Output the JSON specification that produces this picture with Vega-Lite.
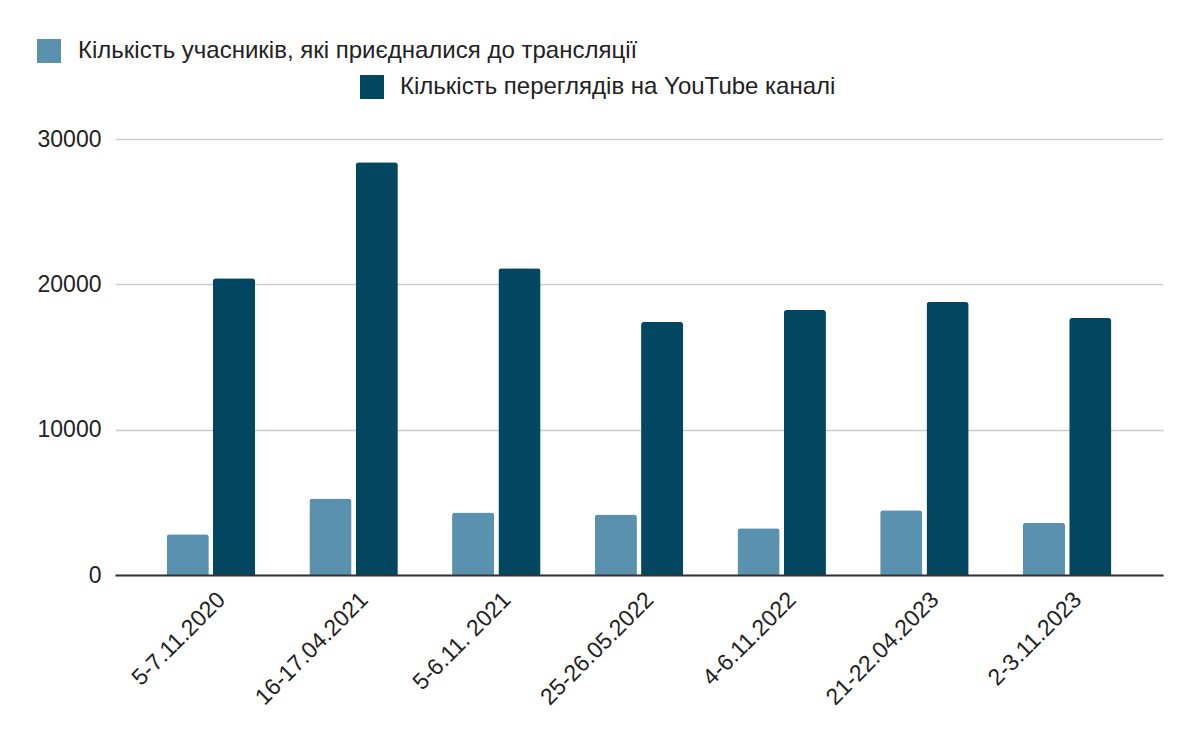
{
  "$schema": "https://vega.github.io/schema/vega-lite/v6.json",
  "autosize": {"type": "none"},
  "width": 1048,
  "height": 436,
  "padding": {"left": 115, "top": 139, "right": 37, "bottom": 167},
  "background": "#ffffff",
  "config": {
    "font": "Liberation Sans",
    "view": {"stroke": null}
  },
  "data": {
    "values": [
      {"event": "5-7.11.2020", "series": "Кількість учасників, які приєдналися до трансляції", "value": 2800},
      {"event": "5-7.11.2020", "series": "Кількість переглядів на YouTube каналі", "value": 20420},
      {"event": "16-17.04.2021", "series": "Кількість учасників, які приєдналися до трансляції", "value": 5260},
      {"event": "16-17.04.2021", "series": "Кількість переглядів на YouTube каналі", "value": 28400},
      {"event": "5-6.11. 2021", "series": "Кількість учасників, які приєдналися до трансляції", "value": 4300},
      {"event": "5-6.11. 2021", "series": "Кількість переглядів на YouTube каналі", "value": 21110},
      {"event": "25-26.05.2022", "series": "Кількість учасників, які приєдналися до трансляції", "value": 4160},
      {"event": "25-26.05.2022", "series": "Кількість переглядів на YouTube каналі", "value": 17410},
      {"event": "4-6.11.2022", "series": "Кількість учасників, які приєдналися до трансляції", "value": 3210},
      {"event": "4-6.11.2022", "series": "Кількість переглядів на YouTube каналі", "value": 18240},
      {"event": "21-22.04.2023", "series": "Кількість учасників, які приєдналися до трансляції", "value": 4450},
      {"event": "21-22.04.2023", "series": "Кількість переглядів на YouTube каналі", "value": 18790},
      {"event": "2-3.11.2023", "series": "Кількість учасників, які приєдналися до трансляції", "value": 3600},
      {"event": "2-3.11.2023", "series": "Кількість переглядів на YouTube каналі", "value": 17680}
    ]
  },
  "encoding": {
    "x": {
      "field": "event",
      "type": "nominal",
      "sort": null,
      "scale": {"paddingInner": 0.38, "paddingOuter": 0.362},
      "axis": {
        "title": null,
        "labelAngle": -45,
        "labelAlign": "right",
        "labelBaseline": "top",
        "labelFontSize": 23,
        "labelColor": "#222222",
        "labelOffset": 3,
        "labelPadding": 13,
        "labelLimit": 0,
        "ticks": false,
        "domain": true,
        "domainColor": "#333333",
        "domainWidth": 2,
        "zindex": 2
      }
    },
    "xOffset": {
      "field": "series",
      "type": "nominal",
      "scale": {
        "domain": ["Кількість учасників, які приєдналися до трансляції", "Кількість переглядів на YouTube каналі"],
        "paddingInner": 0.09
      }
    },
    "y": {
      "field": "value",
      "type": "quantitative",
      "scale": {"domain": [0, 30000], "nice": false},
      "axis": {
        "title": null,
        "values": [0, 10000, 20000, 30000],
        "format": "d",
        "labelFontSize": 23,
        "labelColor": "#222222",
        "labelPadding": 14,
        "ticks": false,
        "domain": false,
        "grid": true,
        "gridColor": "#cccccc",
        "gridWidth": 1.5
      }
    }
  },
  "layer": [
    {
      "transform": [{"filter": "datum.series === 'Кількість учасників, які приєдналися до трансляції'"}],
      "mark": {"type": "bar", "cornerRadiusTopLeft": 3, "cornerRadiusTopRight": 3},
      "encoding": {
        "color": {
          "field": "series",
          "type": "nominal",
          "scale": {"domain": ["Кількість учасників, які приєдналися до трансляції"], "range": ["#5a91ae"]},
          "legend": {
            "orient": "none",
            "legendX": -78,
            "legendY": -100,
            "title": null,
            "padding": 0,
            "symbolType": "square",
            "symbolSize": 576,
            "symbolStrokeWidth": 0,
            "labelFontSize": 24,
            "labelColor": "#222222",
            "labelOffset": 17,
            "labelLimit": 0
          }
        }
      }
    },
    {
      "transform": [{"filter": "datum.series === 'Кількість переглядів на YouTube каналі'"}],
      "mark": {"type": "bar", "cornerRadiusTopLeft": 3, "cornerRadiusTopRight": 3},
      "encoding": {
        "color": {
          "field": "series",
          "type": "nominal",
          "scale": {"domain": ["Кількість переглядів на YouTube каналі"], "range": ["#02475f"]},
          "legend": {
            "orient": "none",
            "legendX": 245,
            "legendY": -64,
            "title": null,
            "padding": 0,
            "symbolType": "square",
            "symbolSize": 576,
            "symbolStrokeWidth": 0,
            "labelFontSize": 24,
            "labelColor": "#222222",
            "labelOffset": 16,
            "labelLimit": 0
          }
        }
      }
    }
  ],
  "resolve": {"scale": {"color": "independent"}}
}
